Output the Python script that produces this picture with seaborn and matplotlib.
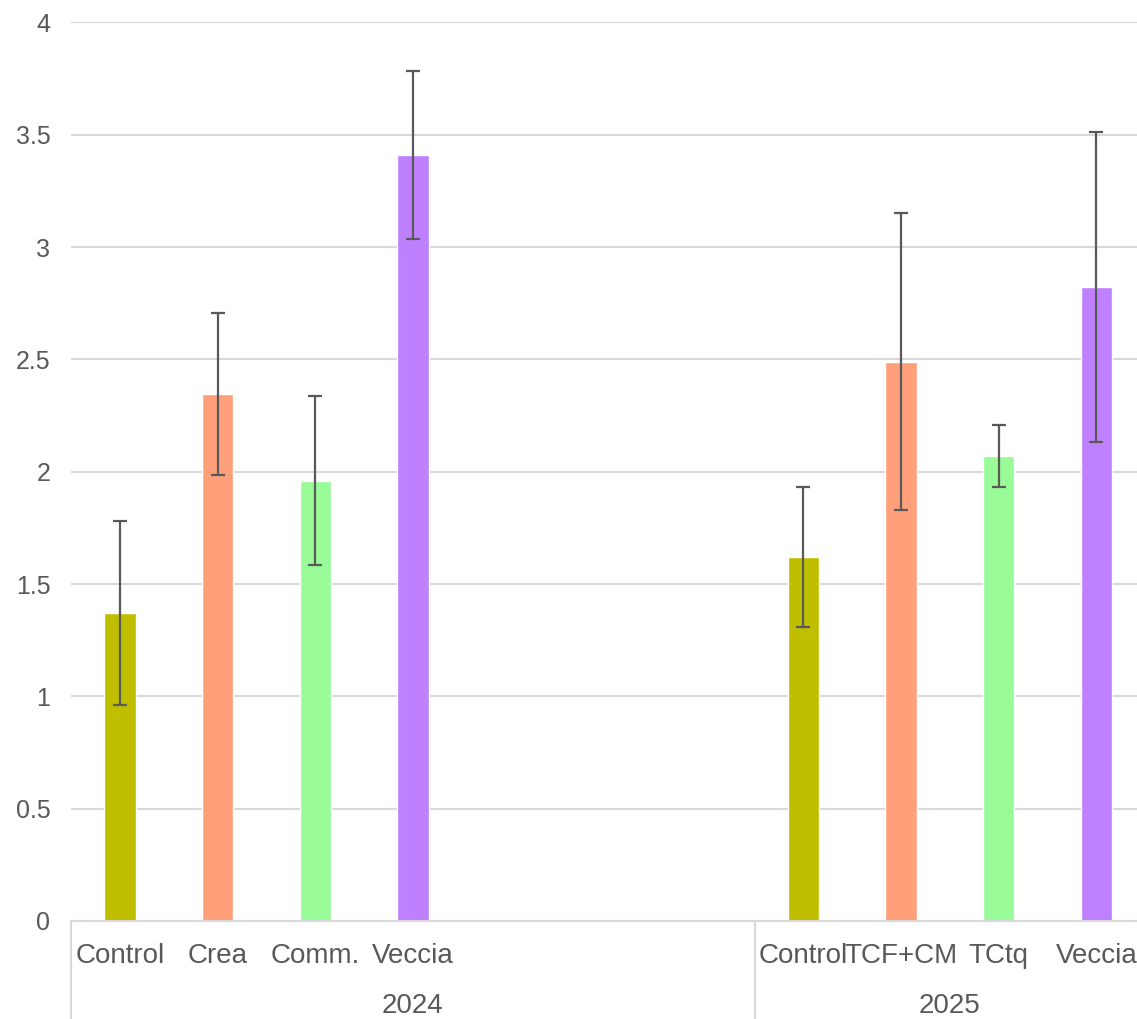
import numpy as np
import pandas as pd
import matplotlib
matplotlib.use("Agg")
import matplotlib.pyplot as plt
import matplotlib.transforms as mtransforms
import seaborn as sns

# --- data ---
slots = ["Control", "Crea", "Comm.", "Veccia", "", " ", "  ",
         "Control ", "TCF+CM", "TCtq", "Veccia "]
bar_labels = ["Control", "Crea", "Comm.", "Veccia",
              "Control ", "TCF+CM", "TCtq", "Veccia "]
values = [1.37, 2.345, 1.96, 3.41, 1.62, 2.49, 2.07, 2.82]
errors = [0.41, 0.36, 0.375, 0.375, 0.31, 0.66, 0.14, 0.69]
years = ["2024", "2025"]
year_slots = [(0, 6), (7, 10)]  # first/last slot of each year block

colori = {"Control": "#BFBF00", "Crea": "#FFA07A", "Comm.": "#98FB98", "Veccia": "#BF80FF",
          "Control ": "#BFBF00", "TCF+CM": "#FFA07A", "TCtq": "#98FB98", "Veccia ": "#BF80FF"}

df = pd.DataFrame({"trattamento": bar_labels, "valore": values, "err": errors})

sns.set_style("white")
plt.rcParams["font.family"] = ["Liberation Sans", "DejaVu Sans"]
testo = "#595959"
griglia = "#D9D9D9"

fig = plt.figure(figsize=(11.37, 10.19), dpi=100)
ax = fig.add_axes([0.0626, 0.0962, 0.9446, 0.8818])

sns.barplot(data=df, x="trattamento", y="valore", hue="trattamento", order=slots,
            palette=colori, width=0.32, legend=False, ax=ax, saturation=1)

# error bars at the categorical positions
pos = [slots.index(t) for t in df["trattamento"]]
ax.errorbar(pos, df["valore"], yerr=df["err"], fmt="none", ecolor=testo,
            elinewidth=1.6, capsize=5, capthick=1.6, zorder=5)

ax.set_ylim(0, 4)
ax.set_xlim(-0.5, len(slots) - 0.5)
ax.set_yticks(np.arange(0, 4.01, 0.5))
ax.set_yticklabels(["0", "0.5", "1", "1.5", "2", "2.5", "3", "3.5", "4"])
ax.yaxis.grid(True, color=griglia, linewidth=1.5)
ax.set_axisbelow(True)
for s in ["top", "right", "left"]:
    ax.spines[s].set_visible(False)
ax.spines["bottom"].set_color(griglia)
ax.spines["bottom"].set_linewidth(1.5)
ax.tick_params(axis="y", length=0, labelsize=18, labelcolor=testo, pad=15)
ax.tick_params(axis="x", length=0, labelsize=20, labelcolor=testo, pad=16)
ax.set_xticks(range(len(slots)))
ax.set_xticklabels([s.strip() for s in slots])
ax.set_xlabel("")
ax.set_ylabel("")

# year row and separators (Excel-style multi-level axis)
trans = mtransforms.blended_transform_factory(ax.transData, ax.transAxes)
for anno, (a, b) in zip(years, year_slots):
    ax.text((a + b) / 2, -0.095, anno, transform=trans, ha="center", va="center",
            fontsize=20, color=testo)
for xs in [-0.5, 6.5]:
    ax.plot([xs, xs], [0, -0.11], transform=trans, color=griglia, linewidth=1.5,
            clip_on=False)

fig.savefig("out.png", dpi=100)
